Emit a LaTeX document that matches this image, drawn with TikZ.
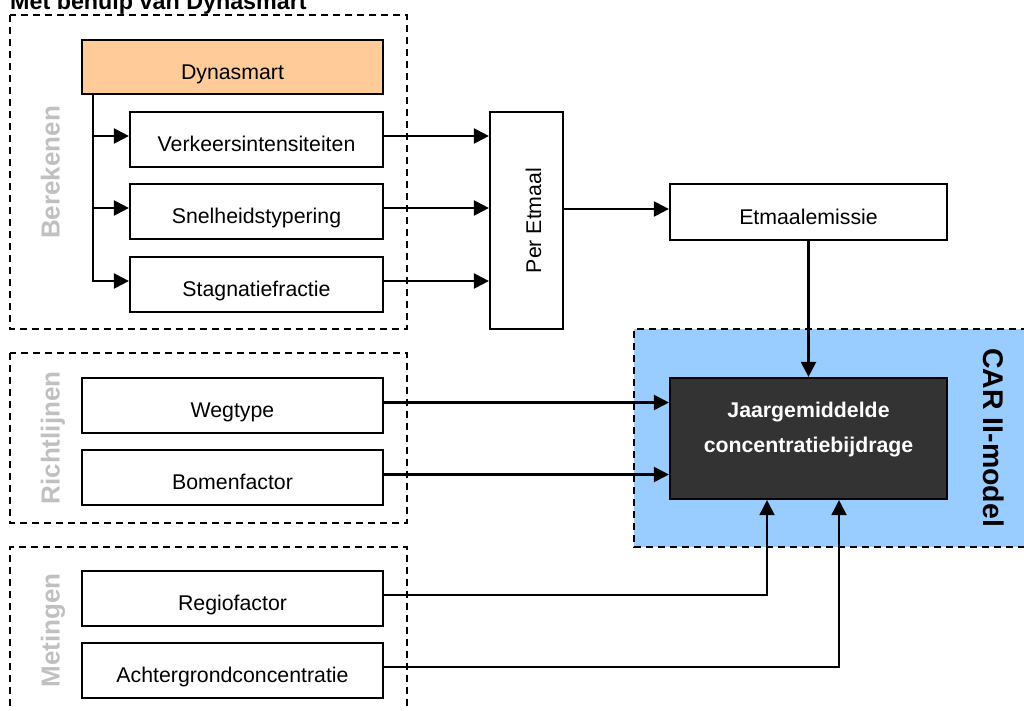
\documentclass[tikz,border=0pt]{standalone}
\usepackage{fontspec}
\setmainfont{Liberation Sans}
\usetikzlibrary{arrows.meta}
\definecolor{orangefill}{HTML}{FFCC99}
\definecolor{carblue}{HTML}{99CCFF}
\definecolor{darkbox}{HTML}{333333}
\definecolor{labelgray}{HTML}{C0C0C0}
\begin{document}
\begin{tikzpicture}[x=1pt,y=-1pt,
  boxbase/.style={draw=black, line width=2.2pt, fill=white, inner sep=0pt,
    font=\fontsize{21.3}{25}\selectfont},
  box/.style={boxbase, text height=24.2pt, text depth=0pt},
  grp/.style={draw=black, line width=1.8pt, dash pattern=on 7pt off 5pt},
  grplabel/.style={font=\fontsize{26}{30}\selectfont\bfseries, text=labelgray, inner sep=0pt},
  arr/.style={line width=2.2pt, -{Triangle[length=15pt,width=15pt]}}
]
\useasboundingbox (0,0) rectangle (1024,711);

% title
\node[font=\fontsize{23.3}{28}\selectfont\bfseries, anchor=base west, inner sep=0pt] (title) at (10,9.5) {Met behulp van Dynasmart};

% groups
\draw[grp] (10,15) rectangle (407,329);
\draw[grp] (10,353) rectangle (407,523);
\draw[grp] (10,730) -- (10,547) -- (407,547) -- (407,730);
\draw[grp, fill=carblue] (1040,329) -- (634,329) -- (634,547) -- (1040,547);

% group labels
\node[grplabel, rotate=90, anchor=base] (lblber) at (59.5,172.5) {Berekenen};
\node[grplabel, rotate=90, anchor=base] (lblricht) at (59.5,438) {Richtlijnen};
\node[grplabel, rotate=90, anchor=base] (lblmet) at (59.5,630.5) {Metingen};
\node[font=\fontsize{28.5}{32}\selectfont\bfseries, rotate=-90, anchor=base, inner sep=0pt] (lblcar) at (983,437.5) {CAR II-model};

% boxes
\node[box, fill=orangefill, minimum width=301pt, minimum height=54pt] (dyn) at (232.5,67) {Dynasmart};
\node[box, minimum width=253pt, minimum height=55pt] (verk) at (256.5,139.5) {Verkeersintensiteiten};
\node[box, minimum width=253pt, minimum height=55pt] (snel) at (256.5,211.5) {Snelheidstypering};
\node[box, minimum width=253pt, minimum height=55pt] (stag) at (256.5,284.5) {Stagnatiefractie};
\node[boxbase, minimum width=73pt, minimum height=217pt] (per) at (526.5,220.5) {\hspace*{14pt}\rotatebox{90}{Per Etmaal}};
\node[box, minimum width=277pt, minimum height=56pt] (etm) at (808.5,212) {Etmaalemissie};
\node[boxbase, fill=darkbox, minimum width=277pt, minimum height=121pt,
  label={[font=\fontsize{21.3}{35}\selectfont\bfseries, text=white, align=center, yshift=9pt]center:Jaargemiddelde\\concentratiebijdrage}] (jaar) at (808.5,438.5) {};
\node[box, minimum width=301pt, minimum height=55pt] (weg) at (232.5,405.5) {Wegtype};
\node[box, minimum width=301pt, minimum height=55pt] (bomen) at (232.5,477.5) {Bomenfactor};
\node[box, minimum width=301pt, minimum height=55pt] (regio) at (232.5,598.5) {Regiofactor};
\node[box, minimum width=301pt, minimum height=55pt] (achter) at (232.5,670.5) {Achtergrondconcentratie};

% connectors
\coordinate (trunk) at ([xshift=12pt]dyn.south west);
\draw[arr] (trunk) |- ([yshift=3.5pt]verk.west);
\draw[arr] (trunk) |- ([yshift=3.5pt]snel.west);
\draw[arr] (trunk) |- ([yshift=3.5pt]stag.west);
\draw[arr] ([yshift=3.5pt]verk.east) -- ([yshift=3.5pt]verk.east -| per.west);
\draw[arr] ([yshift=3.5pt]snel.east) -- ([yshift=3.5pt]snel.east -| per.west);
\draw[arr] ([yshift=3.5pt]stag.east) -- ([yshift=3.5pt]stag.east -| per.west);
\draw[arr] ([yshift=3pt]etm.west -| per.east) -- ([yshift=3pt]etm.west);
\draw[arr] (etm.south) -- (jaar.north);
\draw[arr] ([yshift=3pt]weg.east) -- ([yshift=3pt]weg.east -| jaar.west);
\draw[arr] ([yshift=3pt]bomen.east) -- ([yshift=3pt]bomen.east -| jaar.west);
\draw[arr] ([yshift=3.5pt]regio.east) -| ([xshift=-41.5pt]jaar.south);
\draw[arr] ([yshift=3.5pt]achter.east) -| ([xshift=30.5pt]jaar.south);
\end{tikzpicture}
\end{document}
